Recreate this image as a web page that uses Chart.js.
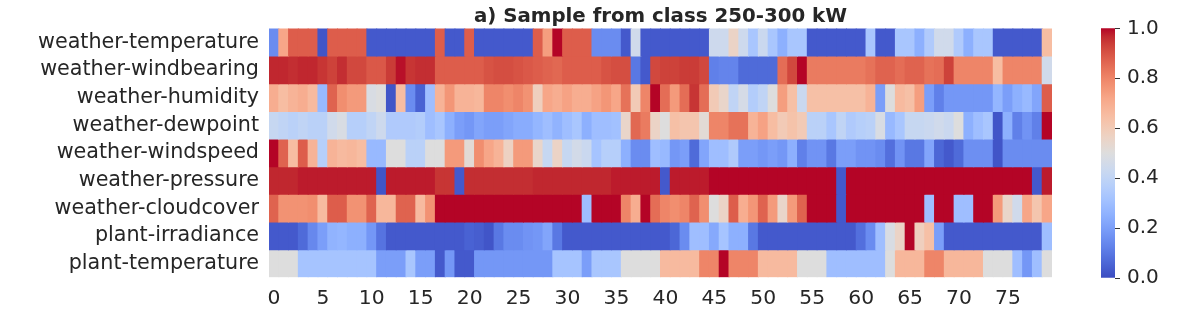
<!DOCTYPE html>
<html>
<head>
<meta charset="utf-8">
<script src="https://cdn.jsdelivr.net/npm/chart.js@4.4.0/dist/chart.umd.min.js"></script>
<style>
  body { margin: 0; background: #fff; }
  #wrap { position: relative; width: 1184px; height: 309px; }
  #heat { position: absolute; left: 0; top: 0; width: 1080px; height: 309px; }
  #cbar { position: absolute; left: 1080px; top: 0; width: 104px; height: 309px; }
</style>
</head>
<body>
<div id="wrap">
  <div id="heat"><canvas id="heatChart"></canvas></div>
  <div id="cbar"><canvas id="cbarChart"></canvas></div>
</div>
<script>
const rows = ['weather-temperature', 'weather-windbearing', 'weather-humidity', 'weather-dewpoint',
  'weather-windspeed', 'weather-pressure', 'weather-cloudcover', 'plant-irradiance', 'plant-temperature'];
const steps = Array.from({ length: 80 }, (_, i) => i);
const xTicks = [0, 5, 10, 15, 20, 25, 30, 35, 40, 45, 50, 55, 60, 65, 70, 75];
const cbTicks = [0, 0.2, 0.4, 0.6, 0.8, 1.0];

const temperature = [0.15,0.72,0.88,0.88,0.88,0.02,0.88,0.88,0.88,0.88,
  0.03,0.03,0.03,0.03,0.03,0.03,0.03,0.88,0.03,0.03,
  0.88,0.03,0.03,0.03,0.03,0.03,0.03,0.88,0.74,1.0,
  0.88,0.88,0.88,0.15,0.15,0.15,0.03,0.45,0.03,0.03,
  0.03,0.03,0.03,0.03,0.03,0.44,0.44,0.56,0.44,0.33,
  0.43,0.33,0.25,0.33,0.33,0.03,0.03,0.03,0.03,0.03,
  0.03,0.33,0.03,0.03,0.33,0.33,0.25,0.35,0.45,0.45,
  0.35,0.25,0.33,0.33,0.03,0.03,0.03,0.03,0.03,0.65];
const windbearing = [0.97,0.97,0.96,0.97,0.97,0.95,0.93,0.96,0.92,0.92,
  0.89,0.89,0.94,0.99,0.95,0.96,0.96,0.88,0.88,0.88,
  0.88,0.88,0.9,0.91,0.91,0.9,0.89,0.88,0.87,0.86,
  0.88,0.88,0.88,0.88,0.9,0.91,0.91,0.1,0.03,0.92,
  0.93,0.93,0.94,0.94,0.92,0.12,0.13,0.13,0.07,0.07,
  0.07,0.07,0.85,0.92,1.0,0.82,0.82,0.82,0.82,0.82,
  0.82,0.84,0.87,0.87,0.85,0.87,0.87,0.84,0.85,0.93,
  0.8,0.8,0.8,0.8,0.65,0.8,0.8,0.8,0.8,0.45];
const humidity = [0.7,0.65,0.68,0.7,0.66,0.28,0.87,0.78,0.75,0.75,
  0.48,0.5,0.02,0.65,0.15,0.05,0.3,0.68,0.76,0.68,
  0.68,0.67,0.8,0.8,0.78,0.8,0.77,0.58,0.72,0.7,
  0.73,0.7,0.7,0.73,0.76,0.72,0.84,0.6,0.8,1.0,
  0.85,0.75,0.85,0.95,0.85,0.6,0.55,0.4,0.47,0.36,
  0.4,0.5,0.74,0.64,0.43,0.64,0.64,0.64,0.64,0.64,
  0.64,0.68,0.2,0.5,0.66,0.64,0.74,0.2,0.12,0.18,
  0.18,0.18,0.18,0.18,0.27,0.2,0.25,0.28,0.22,0.88];
const dewpoint = [0.42,0.4,0.38,0.4,0.38,0.38,0.45,0.48,0.37,0.37,
  0.4,0.44,0.35,0.35,0.35,0.36,0.3,0.33,0.25,0.2,
  0.18,0.22,0.2,0.2,0.22,0.24,0.24,0.27,0.3,0.26,
  0.3,0.33,0.25,0.3,0.3,0.31,0.55,0.86,0.82,0.56,
  0.5,0.64,0.62,0.62,0.52,0.8,0.8,0.84,0.84,0.68,
  0.73,0.65,0.6,0.63,0.6,0.38,0.38,0.33,0.4,0.35,
  0.37,0.38,0.48,0.28,0.33,0.42,0.42,0.43,0.45,0.43,
  0.5,0.25,0.3,0.33,0.02,0.25,0.12,0.17,0.12,1.0];
const windspeed = [1.0,0.87,0.65,0.88,0.68,0.37,0.68,0.66,0.67,0.65,
  0.28,0.28,0.5,0.5,0.38,0.38,0.5,0.5,0.75,0.75,
  0.52,0.78,0.72,0.68,0.57,0.75,0.75,0.55,0.42,0.56,
  0.42,0.46,0.43,0.32,0.37,0.37,0.25,0.15,0.15,0.3,
  0.28,0.18,0.2,0.07,0.22,0.3,0.3,0.35,0.2,0.2,
  0.18,0.2,0.18,0.25,0.12,0.17,0.17,0.1,0.2,0.2,
  0.17,0.17,0.15,0.08,0.17,0.1,0.1,0.22,0.06,0.03,
  0.07,0.16,0.16,0.16,0.02,0.15,0.15,0.15,0.15,0.15];
const pressure = [0.97,0.97,0.97,0.98,0.98,0.98,0.98,0.98,0.98,0.98,
  0.98,0.02,0.98,0.98,0.98,0.98,0.98,0.95,0.95,0.03,
  0.96,0.96,0.96,0.96,0.96,0.96,0.96,0.97,0.97,0.97,
  0.97,0.97,0.97,0.97,0.97,0.98,0.98,0.98,0.98,0.98,
  0.03,0.98,0.98,0.98,0.98,1.0,1.0,1.0,1.0,1.0,
  1.0,1.0,1.0,1.0,1.0,1.0,1.0,1.0,0.03,1.0,
  1.0,1.0,1.0,1.0,1.0,1.0,1.0,1.0,1.0,1.0,
  1.0,1.0,1.0,1.0,1.0,1.0,1.0,1.0,0.03,0.98];
const cloudcover = [0.87,0.77,0.77,0.77,0.78,0.66,0.88,0.88,0.77,0.77,
  0.87,0.67,0.67,0.87,0.87,0.66,0.77,1.0,1.0,1.0,
  1.0,1.0,1.0,1.0,1.0,1.0,1.0,1.0,1.0,1.0,
  1.0,1.0,0.3,1.0,1.0,1.0,0.8,0.7,1.0,0.85,
  0.8,0.78,0.8,0.87,0.78,0.5,0.56,0.88,0.7,0.76,
  0.87,0.75,0.55,0.75,0.87,1.0,1.0,1.0,0.03,1.0,
  1.0,1.0,1.0,1.0,1.0,1.0,1.0,0.3,1.0,1.0,
  0.3,0.3,1.0,1.0,0.75,0.55,0.45,0.72,0.62,0.72];
const irradiance = [0.03,0.03,0.03,0.07,0.14,0.2,0.26,0.27,0.25,0.25,
  0.18,0.09,0.03,0.03,0.03,0.03,0.03,0.03,0.03,0.03,
  0.05,0.04,0.02,0.1,0.15,0.15,0.17,0.18,0.22,0.1,
  0.03,0.03,0.03,0.03,0.03,0.03,0.03,0.03,0.03,0.03,
  0.03,0.06,0.15,0.3,0.3,0.23,0.32,0.25,0.25,0.1,
  0.03,0.03,0.03,0.03,0.03,0.03,0.03,0.03,0.03,0.03,
  0.08,0.15,0.3,0.48,0.56,1.0,0.58,0.64,0.2,0.03,
  0.03,0.03,0.03,0.03,0.03,0.03,0.03,0.03,0.03,0.3];
const plantTemp = [0.5,0.5,0.5,0.32,0.32,0.32,0.32,0.32,0.32,0.32,
  0.32,0.2,0.2,0.2,0.33,0.2,0.2,0.03,0.18,0.03,
  0.03,0.18,0.18,0.18,0.18,0.18,0.18,0.18,0.18,0.32,
  0.32,0.32,0.2,0.33,0.33,0.33,0.5,0.5,0.5,0.5,
  0.66,0.66,0.66,0.66,0.8,0.8,1.0,0.8,0.8,0.8,
  0.66,0.66,0.66,0.66,0.5,0.5,0.5,0.3,0.3,0.3,
  0.3,0.3,0.3,0.5,0.67,0.67,0.67,0.8,0.8,0.67,
  0.67,0.67,0.67,0.5,0.5,0.5,0.3,0.18,0.3,0.5];

const values = [temperature, windbearing, humidity, dewpoint, windspeed, pressure, cloudcover, irradiance, plantTemp];

// matplotlib coolwarm, 33 stops
const coolwarmStops = [
  [59,76,192],[68,90,204],[77,104,215],[87,117,225],[98,130,234],[108,142,241],[119,154,247],[130,165,251],
  [141,176,254],[152,185,255],[163,194,255],[174,201,253],[184,208,249],[194,213,244],[204,217,238],[213,219,230],
  [221,221,221],[229,216,209],[236,211,197],[241,204,184],[245,196,172],[247,187,160],[247,177,148],[247,167,137],
  [244,154,123],[241,141,111],[236,127,99],[229,112,88],[222,96,77],[213,80,66],[203,62,56],[192,40,47],[180,4,38]
];

function coolwarm(v) {
  const t = Math.min(1, Math.max(0, v)) * (coolwarmStops.length - 1);
  const i = Math.min(Math.floor(t), coolwarmStops.length - 2);
  const f = t - i;
  const a = coolwarmStops[i], b = coolwarmStops[i + 1];
  const c = a.map((x, k) => Math.round(x + (b[k] - x) * f));
  return `rgb(${c[0]},${c[1]},${c[2]})`;
}

const textColor = '#262626';
const fontFamily = "'DejaVu Sans', sans-serif";

new Chart(document.getElementById('heatChart'), {
  type: 'bar',
  data: {
    labels: steps,
    datasets: rows.map((name, r) => ({
      label: name,
      data: steps.map(() => [r, r + 1]),
      backgroundColor: values[r].map(coolwarm),
      borderWidth: 0,
      inflateAmount: 0.5,
      barPercentage: 1,
      categoryPercentage: 1,
      grouped: false
    }))
  },
  options: {
    responsive: true,
    maintainAspectRatio: false,
    animation: false,
    layout: { padding: { left: 0, right: 28, top: 0, bottom: 0 } },
    plugins: {
      legend: { display: false },
      tooltip: { enabled: false },
      title: {
        display: true,
        text: 'a) Sample from class 250-300 kW',
        fullSize: false,
        color: textColor,
        font: { family: fontFamily, size: 19.8, weight: 'bold' },
        padding: { top: 4.5, bottom: 0.2 }
      }
    },
    scales: {
      x: {
        grid: { display: false, drawTicks: false },
        border: { display: false },
        ticks: {
          autoSkip: false,
          maxRotation: 0,
          padding: 9,
          color: textColor,
          font: { family: fontFamily, size: 20.3 },
          callback: (v, i) => xTicks.includes(i) ? String(steps[i]) : ''
        },
        afterFit: s => { s.height = 31.7; }
      },
      y: {
        type: 'linear',
        reverse: true,
        min: 0,
        max: rows.length,
        grid: { display: false, drawTicks: false },
        border: { display: false },
        afterBuildTicks: s => { s.ticks = rows.map((_, i) => ({ value: i + 0.5 })); },
        ticks: {
          autoSkip: false,
          padding: 10,
          color: textColor,
          font: { family: fontFamily, size: 20.7 },
          callback: v => rows[Math.floor(v)]
        },
        afterFit: s => { s.width = 269; }
      }
    }
  }
});

new Chart(document.getElementById('cbarChart'), {
  type: 'bar',
  data: {
    labels: [''],
    datasets: [{
      data: [[0, 1]],
      backgroundColor: ctx => {
        const area = ctx.chart.chartArea;
        if (!area) return null;
        const g = ctx.chart.ctx.createLinearGradient(0, area.bottom, 0, area.top);
        coolwarmStops.forEach((c, i) => g.addColorStop(i / (coolwarmStops.length - 1), `rgb(${c[0]},${c[1]},${c[2]})`));
        return g;
      },
      borderWidth: 0,
      barPercentage: 1,
      categoryPercentage: 1
    }]
  },
  options: {
    responsive: true,
    maintainAspectRatio: false,
    animation: false,
    layout: { padding: { left: 21, right: 0, top: 28.3, bottom: 31 } },
    plugins: { legend: { display: false }, tooltip: { enabled: false } },
    scales: {
      x: { display: false },
      y: {
        position: 'right',
        min: 0,
        max: 1,
        afterBuildTicks: s => { s.ticks = cbTicks.map(v => ({ value: v })); },
        grid: { drawOnChartArea: false, drawTicks: true, tickLength: 5, color: '#333' },
        border: { display: false },
        ticks: {
          padding: 7,
          color: textColor,
          font: { family: fontFamily, size: 20 },
          callback: v => v.toFixed(1)
        },
        afterFit: s => { s.width = 69; }
      }
    }
  }
});
</script>
</body>
</html>
